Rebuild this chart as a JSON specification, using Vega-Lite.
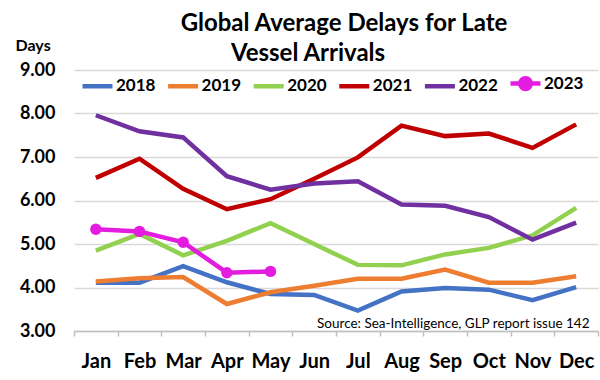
{
  "$schema": "https://vega.github.io/schema/vega-lite/v6.json",
  "width": 524,
  "height": 261,
  "autosize": "none",
  "padding": {"left": 74, "top": 70, "right": 2, "bottom": 49},
  "background": "white",
  "config": {"font": "Lato", "view": {"stroke": null}},
  "title": {
    "text": ["Global Average Delays for Late", "Vessel Arrivals\u2800\u2800\u2800\u2800"],
    "font": "Lato",
    "fontSize": 24,
    "fontWeight": "bold",
    "color": "black",
    "lineHeight": 30,
    "anchor": "middle",
    "frame": "group",
    "dx": 8,
    "offset": -29
  },
  "data": {
    "values": [
      {"month": "Jan", "year": "2018", "value": 4.11},
      {"month": "Feb", "year": "2018", "value": 4.11},
      {"month": "Mar", "year": "2018", "value": 4.49},
      {"month": "Apr", "year": "2018", "value": 4.12},
      {"month": "May", "year": "2018", "value": 3.85},
      {"month": "Jun", "year": "2018", "value": 3.83},
      {"month": "Jul", "year": "2018", "value": 3.47},
      {"month": "Aug", "year": "2018", "value": 3.91},
      {"month": "Sep", "year": "2018", "value": 3.99},
      {"month": "Oct", "year": "2018", "value": 3.95},
      {"month": "Nov", "year": "2018", "value": 3.71},
      {"month": "Dec", "year": "2018", "value": 4.01},
      {"month": "Jan", "year": "2019", "value": 4.14},
      {"month": "Feb", "year": "2019", "value": 4.21},
      {"month": "Mar", "year": "2019", "value": 4.24},
      {"month": "Apr", "year": "2019", "value": 3.62},
      {"month": "May", "year": "2019", "value": 3.89},
      {"month": "Jun", "year": "2019", "value": 4.04},
      {"month": "Jul", "year": "2019", "value": 4.2},
      {"month": "Aug", "year": "2019", "value": 4.2},
      {"month": "Sep", "year": "2019", "value": 4.41},
      {"month": "Oct", "year": "2019", "value": 4.11},
      {"month": "Nov", "year": "2019", "value": 4.11},
      {"month": "Dec", "year": "2019", "value": 4.26},
      {"month": "Jan", "year": "2020", "value": 4.85},
      {"month": "Feb", "year": "2020", "value": 5.23},
      {"month": "Mar", "year": "2020", "value": 4.74},
      {"month": "Apr", "year": "2020", "value": 5.07},
      {"month": "May", "year": "2020", "value": 5.48},
      {"month": "Jun", "year": "2020", "value": 5.0},
      {"month": "Jul", "year": "2020", "value": 4.52},
      {"month": "Aug", "year": "2020", "value": 4.51},
      {"month": "Sep", "year": "2020", "value": 4.76},
      {"month": "Oct", "year": "2020", "value": 4.91},
      {"month": "Nov", "year": "2020", "value": 5.2},
      {"month": "Dec", "year": "2020", "value": 5.83},
      {"month": "Jan", "year": "2021", "value": 6.52},
      {"month": "Feb", "year": "2021", "value": 6.96},
      {"month": "Mar", "year": "2021", "value": 6.27},
      {"month": "Apr", "year": "2021", "value": 5.8},
      {"month": "May", "year": "2021", "value": 6.03},
      {"month": "Jun", "year": "2021", "value": 6.5},
      {"month": "Jul", "year": "2021", "value": 6.99},
      {"month": "Aug", "year": "2021", "value": 7.72},
      {"month": "Sep", "year": "2021", "value": 7.48},
      {"month": "Oct", "year": "2021", "value": 7.54},
      {"month": "Nov", "year": "2021", "value": 7.21},
      {"month": "Dec", "year": "2021", "value": 7.75},
      {"month": "Jan", "year": "2022", "value": 7.96},
      {"month": "Feb", "year": "2022", "value": 7.59},
      {"month": "Mar", "year": "2022", "value": 7.45},
      {"month": "Apr", "year": "2022", "value": 6.56},
      {"month": "May", "year": "2022", "value": 6.25},
      {"month": "Jun", "year": "2022", "value": 6.39},
      {"month": "Jul", "year": "2022", "value": 6.44},
      {"month": "Aug", "year": "2022", "value": 5.91},
      {"month": "Sep", "year": "2022", "value": 5.88},
      {"month": "Oct", "year": "2022", "value": 5.62},
      {"month": "Nov", "year": "2022", "value": 5.1},
      {"month": "Dec", "year": "2022", "value": 5.49},
      {"month": "Jan", "year": "2023", "value": 5.34},
      {"month": "Feb", "year": "2023", "value": 5.29},
      {"month": "Mar", "year": "2023", "value": 5.04},
      {"month": "Apr", "year": "2023", "value": 4.34},
      {"month": "May", "year": "2023", "value": 4.37}
    ]
  },
  "encoding": {
    "x": {
      "field": "month",
      "type": "ordinal",
      "sort": ["Jan", "Feb", "Mar", "Apr", "May", "Jun", "Jul", "Aug", "Sep", "Oct", "Nov", "Dec"],
      "scale": {"paddingInner": 0, "paddingOuter": 0},
      "axis": {
        "title": "Source: Sea-Intelligence, GLP report issue 142",
        "titleFont": "Lato",
        "titleFontSize": 13.5,
        "titleFontWeight": "normal",
        "titleColor": "black",
        "titleAnchor": "end",
        "titleAlign": "right",
        "titleBaseline": "alphabetic",
        "titleX": 515,
        "titleY": -4,
        "labelAngle": 0,
        "labelFont": "Lato",
        "labelFontSize": 20,
        "labelFontWeight": "bold",
        "labelColor": "black",
        "labelPadding": 15,
        "domainColor": "#BFBFBF",
        "domainWidth": 1.5,
        "tickBand": "extent",
        "tickColor": "#BFBFBF",
        "tickSize": 5,
        "tickWidth": 1.5,
        "grid": false
      }
    },
    "y": {
      "field": "value",
      "type": "quantitative",
      "scale": {"domain": [3, 9], "nice": false, "zero": false},
      "axis": {
        "title": "Days",
        "titleAngle": 0,
        "titleFont": "Lato",
        "titleFontSize": 16,
        "titleFontWeight": "bold",
        "titleColor": "black",
        "titleAlign": "left",
        "titleBaseline": "middle",
        "titleX": -59,
        "titleY": -25,
        "values": [3, 4, 5, 6, 7, 8, 9],
        "format": ".2f",
        "labelFont": "Lato",
        "labelFontSize": 18,
        "labelFontWeight": "bold",
        "labelColor": "black",
        "labelPadding": 19,
        "ticks": false,
        "domain": false,
        "grid": true,
        "gridColor": "#D9D9D9",
        "gridWidth": 1.5
      }
    },
    "color": {
      "field": "year",
      "type": "nominal",
      "scale": {
        "domain": ["2018", "2019", "2020", "2021", "2022", "2023"],
        "range": ["#4472C4", "#ED7D31", "#92D050", "#C00000", "#7030A0", "#E31CE0"]
      },
      "legend": {
        "title": null,
        "orient": "none",
        "legendX": 6,
        "legendY": -4,
        "direction": "horizontal",
        "columns": 6,
        "padding": 0,
        "columnPadding": 2.6,
        "symbolType": "stroke",
        "symbolSize": 900,
        "symbolStrokeWidth": 4.5,
        "labelFont": "Lato",
        "labelFontSize": 17,
        "labelFontWeight": "bold",
        "labelColor": "black",
        "labelOffset": 1,
        "encode": {
          "symbols": {
            "update": {
              "shape": {"signal": "datum.value === '2023' ? 'M-1,0L1,0M-0.36,0A0.36,0.36 0 1,0 0.36,0A0.36,0.36 0 1,0 -0.36,0Z' : 'stroke'"},
              "fill": {"signal": "datum.value === '2023' ? '#E31CE0' : 'transparent'"},
              "strokeWidth": {"value": 4.5}
            }
          }
        }
      }
    }
  },
  "layer": [
    {"mark": {"type": "line", "strokeWidth": 4.5}},
    {
      "transform": [{"filter": "datum.year === '2023'"}],
      "mark": {"type": "circle", "size": 130, "opacity": 1}
    }
  ]
}
